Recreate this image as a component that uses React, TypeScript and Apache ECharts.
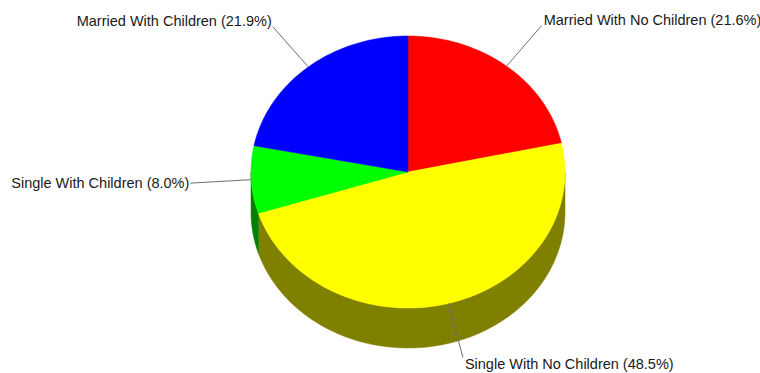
import React, { useEffect, useRef } from "react";
import * as echarts from "echarts";

const categories = [
  "Married With No Children",
  "Single With No Children",
  "Single With Children",
  "Married With Children",
];
const values = [21.6, 48.5, 8.0, 21.9];
const topColors = ["#ff0000", "#ffff00", "#00ff00", "#0000ff"];
const sideColors = ["#800000", "#808000", "#008000", "#000080"];

const CX = 408;
const CY = 172;
const RX = 157;
const RY = 136;
const DEPTH = 40;
const LEADER = 56;
const FONT = '14.5px "Liberation Sans", Arial, sans-serif';

const total = values.reduce((a, b) => a + b, 0);
const startAngles: number[] = [];
{
  let acc = 0;
  for (const v of values) {
    startAngles.push((acc / total) * Math.PI * 2);
    acc += v;
  }
}

function pt(t: number, dy = 0): number[] {
  return [CX + RX * Math.sin(t), CY - RY * Math.cos(t) + dy];
}

function arc(a0: number, a1: number, dy = 0): number[][] {
  const n = Math.max(4, Math.ceil(((a1 - a0) / (Math.PI * 2)) * 360));
  const out: number[][] = [];
  for (let k = 0; k <= n; k++) out.push(pt(a0 + ((a1 - a0) * k) / n, dy));
  return out;
}

function angleRange(i: number, v: number): [number, number] {
  const a0 = startAngles[i];
  return [a0, a0 + (v / total) * Math.PI * 2];
}

export default function App() {
  const ref = useRef<HTMLDivElement>(null);
  useEffect(() => {
    if (!ref.current) return;
    const chart = echarts.init(ref.current, undefined, { renderer: "svg" });
    chart.setOption({
      animation: false,
      backgroundColor: "#ffffff",
      series: [
        {
          type: "custom",
          coordinateSystem: "none",
          silent: true,
          z: 1,
          data: values,
          renderItem: (params: any, api: any) => {
            const i = params.dataIndex;
            const [a0, a1] = angleRange(i, api.value(0));
            const s = Math.max(a0, Math.PI / 2);
            const e = Math.min(a1, (Math.PI * 3) / 2);
            if (e <= s) return { type: "group", children: [] };
            const pts = arc(s, e).concat(arc(s, e, DEPTH).reverse());
            return {
              type: "polygon",
              shape: { points: pts },
              style: { fill: sideColors[i], stroke: sideColors[i], lineWidth: 0.5 },
            };
          },
        },
        {
          type: "custom",
          coordinateSystem: "none",
          silent: true,
          z: 2,
          data: values,
          renderItem: (params: any, api: any) => {
            const i = params.dataIndex;
            const v = api.value(0);
            const [a0, a1] = angleRange(i, v);
            const pts = [[CX, CY]].concat(arc(a0, a1));
            const mid = (a0 + a1) / 2;
            const sx = Math.sin(mid);
            const cy = -Math.cos(mid);
            const p0 = pt(mid);
            const len = Math.abs(cy) < 0.3 ? LEADER + 5 : LEADER;
            const p1 = [p0[0] + sx * len, p0[1] + cy * len];
            if (cy < -0.3) p1[1] += 3;
            const align = sx >= 0 ? "left" : "right";
            const vAlign = cy < -0.3 ? "bottom" : cy > 0.3 ? "top" : "middle";
            const tx = p1[0] + (sx >= 0 ? 2 : -1);
            const ty = p1[1] + (vAlign === "top" ? -1 : vAlign === "bottom" ? 2 : 0);
            return {
              type: "group",
              children: [
                {
                  type: "polygon",
                  shape: { points: pts },
                  style: { fill: topColors[i], stroke: topColors[i], lineWidth: 0.5 },
                },
                {
                  type: "line",
                  shape: { x1: p0[0], y1: p0[1], x2: p1[0], y2: p1[1] },
                  style: { stroke: "#6e6e6e", lineWidth: 1 },
                },
                {
                  type: "text",
                  x: tx,
                  y: ty,
                  style: {
                    text: `${categories[i]} (${((v / total) * 100).toFixed(1)}%)`,
                    fill: "#1a1a1a",
                    font: FONT,
                    lineHeight: 15,
                    align,
                    verticalAlign: vAlign,
                  },
                },
              ],
            };
          },
        },
      ],
    });
    return () => chart.dispose();
  }, []);
  return (
    <div
      ref={ref}
      style={{ position: "fixed", left: 0, top: 0, width: 760, height: 373 }}
    />
  );
}
